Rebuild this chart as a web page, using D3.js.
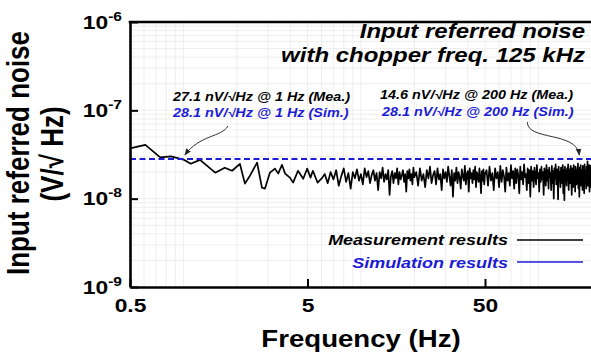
<!DOCTYPE html>
<html>
<head>
<meta charset="utf-8">
<script src="https://cdn.jsdelivr.net/npm/d3@7"></script>
<style>
  body { margin: 0; background: #fff; }
  svg { font-family: "Liberation Sans", Arial, sans-serif; font-weight: bold; }
</style>
</head>
<body>
<svg id="chart" width="591" height="354"></svg>
<script>
// measured noise, nV/sqrt(Hz)
// low end: points read one by one off the trace
const measLowFreq = [0.5, 0.61, 0.74, 0.85, 1.0, 1.1, 1.24, 1.51, 1.71, 1.88, 2.08, 2.22, 2.37, 2.6, 2.77, 2.88,
  3.07, 3.28, 3.42, 3.59, 3.74, 3.98, 4.15, 4.42, 4.73, 4.98, 5.2, 5.36, 5.7, 6.06];
const measLow = [37, 40.6, 29.4, 30.1, 27.7, 24.9, 27.5, 19.7, 22.4, 20.7, 24.8, 14.8, 18.2, 25.6, 13.3, 13.0,
  19.7, 21.9, 19.2, 24.2, 19.2, 17.3, 15.2, 20.7, 16.8, 21.9, 17.3, 20.7, 15.2, 17.3];
// 6.25 .. 20 Hz, one value every 0.25 Hz
const measMid = [19, 15, 20, 16.5, 21, 14, 18, 22, 15.5, 19.5, 13, 20, 17, 21.5, 16, 19, 14.5, 22, 17.5, 20.5,
  15, 18.5, 21, 16, 19.5, 12.5, 20, 17, 22.5, 15.5, 19, 16.5, 21, 11, 18, 20.5, 15, 19.5, 17, 22,
  14.5, 20, 16.5, 18.5, 21, 15.5, 19, 12, 20.5, 17, 21.5, 16, 19, 14.5, 22.5, 17.5];
// 20.5 .. 50 Hz, every 0.5 Hz
const measHigh = [20, 14, 22, 16, 19, 13.5, 21, 17, 23, 15, 18.5, 20.5, 14.5, 22, 16.5, 19, 12.5, 21.5, 17, 20,
  15.5, 23, 18, 14, 21, 10.5, 19.5, 16, 22.5, 15, 20, 17.5, 13, 21.5, 18, 16, 23.5, 14.5, 19, 20.5,
  12, 22, 17, 19.5, 15, 21, 16.5, 23, 13.5, 20, 18, 15.5, 22, 17, 11.5, 20.5, 16, 21.5, 14.5, 19];
// 51 .. 200 Hz, every 1 Hz
const measTop = [21, 14, 23, 16, 19.5, 12.5, 22, 17, 20, 13.5, 23.5, 15.5, 21, 18, 12, 22.5, 16, 19.5, 14, 24,
  17, 20.5, 13, 22, 15, 21.5, 18.5, 11.5, 23, 16.5, 20, 14.5, 24.5, 17.5, 19, 12.5, 22, 15, 21, 10.5,
  23, 16, 20.5, 13.5, 22.5, 18, 14.5, 24, 17, 19.5, 12, 21.5, 15.5, 23, 16.5, 20, 11, 22, 18.5, 14,
  24, 16, 21, 13, 22.5, 17.5, 19.5, 12.5, 23.5, 15, 20.5, 10, 22, 17, 24.5, 14.5, 19, 21.5, 9.8, 23,
  16, 20, 13.5, 22.5, 18, 15, 24, 11.5, 21, 9.6, 23, 17, 20.5, 14, 22, 16.5, 24.5, 12.5, 19, 21.5,
  15, 23.5, 17.5, 11, 22, 19, 13.5, 24, 16, 20.5, 12, 23, 18.5, 14.5, 21.5, 16, 25, 13, 20, 10.5,
  22.5, 17, 24, 14, 19.5, 21, 12.5, 23.5, 16.5, 20, 11.5, 24.5, 15.5, 21, 18, 13, 23, 17, 26.5, 14,
  22, 16, 24, 12, 20.5, 18.5, 23.5, 13.5, 21, 17];
const simValue = 28.1; // nV/sqrt(Hz), flat

const xTicks = [0.5, 5, 50];
const yTicks = [1e-9, 1e-8, 1e-7, 1e-6];

const meas = measLowFreq.map((f, i) => [f, measLow[i]])
  .concat(measMid.map((v, i) => [6.25 + i * 0.25, v]))
  .concat(measHigh.map((v, i) => [20.5 + i * 0.5, v]))
  .concat(measTop.map((v, i) => [51 + i, v]));

const plotL = 130, plotT = 22, plotB = 287;
const plotR = plotL + 177.5 * Math.log10(200 / 0.5);
const sx = 1.2; // the original lettering is a bit wide

const svg = d3.select("#chart");
const blue = "#1c1cd8";

const x = d3.scaleLog().domain([0.5, 200]).range([plotL, plotR]);
const y = d3.scaleLog().domain([1e-9, 1e-6]).range([plotB, plotT]);

// grid
const xGrid = [0.6, 0.7, 0.8, 0.9, 1, 2, 3, 4, 5, 6, 7, 8, 9, 10, 20, 30, 40, 50, 60, 70, 80, 90, 100, 200];
const yGrid = [];
[1e-9, 1e-8, 1e-7].forEach(d => { for (let k = 1; k < 10; k++) yGrid.push(d * k); });

const grid = svg.append("g").attr("stroke", "#eeeeee").attr("stroke-width", 1);
grid.selectAll("line.gx").data(xGrid).enter().append("line")
  .attr("x1", d => x(d)).attr("x2", d => x(d)).attr("y1", plotT).attr("y2", plotB);
grid.selectAll("line.gy").data(yGrid.slice(1)).enter().append("line")
  .attr("x1", plotL).attr("x2", plotR).attr("y1", d => y(d)).attr("y2", d => y(d));

// lines
svg.append("clipPath").attr("id", "plot").append("rect")
  .attr("x", plotL).attr("y", plotT).attr("width", plotR - plotL).attr("height", plotB - plotT);

const line = d3.line().x(d => x(d[0])).y(d => y(d[1] * 1e-9));
svg.append("path").datum(meas)
  .attr("clip-path", "url(#plot)")
  .attr("d", line)
  .attr("fill", "none").attr("stroke", "#000").attr("stroke-width", 1.7)
  .attr("stroke-linejoin", "round");

svg.append("path").datum([[0.5, simValue], [200, simValue]])
  .attr("d", line)
  .attr("fill", "none").attr("stroke", blue).attr("stroke-width", 2)
  .attr("stroke-dasharray", "6,3.5");

// axes
const xAxis = svg.append("g").attr("transform", `translate(0,${plotB})`)
  .call(d3.axisBottom(x).tickValues(xTicks).tickSizeInner(-8).tickSizeOuter(0).tickPadding(12)
    .tickFormat(d => String(d)));
const yAxis = svg.append("g").attr("transform", `translate(${plotL},0)`)
  .call(d3.axisLeft(y).tickValues(yTicks).tickSizeInner(-8).tickSizeOuter(0).tickPadding(8)
    .tickFormat(() => ""));

[xAxis, yAxis].forEach(a => {
  a.attr("font-family", null).attr("font-size", 19);
  a.select(".domain").attr("stroke", "#000").attr("stroke-width", 2.6);
  a.selectAll(".tick line").attr("stroke", "#000").attr("stroke-width", 2);
  a.selectAll(".tick text").attr("fill", "#000");
});
xAxis.selectAll(".tick text").attr("transform", `scale(${sx},1)`);
yAxis.selectAll(".tick text")
  .attr("x", -8 / sx).attr("transform", `scale(${sx},1)`)
  .each(function (d) {
    const t = d3.select(this);
    t.append("tspan").text("10");
    t.append("tspan").attr("font-size", 13).attr("dy", -8).text(String(Math.round(Math.log10(d))));
  });

svg.append("line").attr("x1", plotL - 1.3).attr("x2", plotR).attr("y1", plotT).attr("y2", plotT)
  .attr("stroke", "#000").attr("stroke-width", 2.6);

// text helper, stretched sideways
function label(px, py, txt, size, opt = {}) {
  return svg.append("text")
    .attr("transform", `translate(${px},${py}) ` + (opt.rot ? `rotate(-90) scale(1,${sx})` : `scale(${sx},1)`))
    .attr("text-anchor", opt.anchor || "start")
    .attr("font-size", size)
    .attr("font-style", opt.italic ? "italic" : null)
    .attr("fill", opt.color || "#000")
    .text(txt);
}

// axis titles
label(361, 347, "Frequency (Hz)", 23, { anchor: "middle" });
label(29, 153, "Input referred noise", 26, { anchor: "middle", rot: true });
label(63, 154, "(V/\u221A Hz)", 26, { anchor: "middle", rot: true });

// title
label(585, 38, "Input referred noise", 20, { anchor: "end", italic: true });
label(585, 62, "with chopper freq. 125 kHz", 20, { anchor: "end", italic: true });

// annotations
label(173, 101, "27.1 nV/\u221AHz @ 1 Hz (Mea.)", 12, { italic: true });
label(173, 117, "28.1 nV/\u221AHz @ 1 Hz (Sim.)", 12, { italic: true, color: blue });
label(380, 99, "14.6 nV/\u221AHz @ 200 Hz (Mea.)", 12, { italic: true });
label(382, 116, "28.1 nV/\u221AHz @ 200 Hz (Sim.)", 12, { italic: true, color: blue });

svg.append("defs").append("marker")
  .attr("id", "tip").attr("viewBox", "0 0 10 10").attr("refX", 9).attr("refY", 5)
  .attr("markerWidth", 7).attr("markerHeight", 7).attr("orient", "auto-start-reverse")
  .append("path").attr("d", "M0,1L10,5L0,9Z").attr("fill", "#222");

const ySim = y(simValue * 1e-9);
const t1 = [x(1) + 1.5, ySim - 4], t2 = [x(170), ySim - 4];
svg.append("path")
  .attr("d", `M${t1[0] + 43},${t1[1] - 29} C${t1[0] + 37},${t1[1] - 18} ${t1[0] + 14},${t1[1] - 20} ${t1[0]},${t1[1]}`)
  .attr("fill", "none").attr("stroke", "#333").attr("stroke-width", 1).attr("marker-end", "url(#tip)");
svg.append("path")
  .attr("d", `M${t2[0] - 52},${t2[1] - 33} C${t2[0] - 52},${t2[1] - 14} ${t2[0] - 3},${t2[1] - 24} ${t2[0]},${t2[1]}`)
  .attr("fill", "none").attr("stroke", "#333").attr("stroke-width", 1).attr("marker-end", "url(#tip)");

// legend
label(508, 245, "Measurement results", 15, { anchor: "end", italic: true });
label(508, 268, "Simulation results", 15, { anchor: "end", italic: true, color: blue });
svg.append("line").attr("x1", 517).attr("x2", 583).attr("y1", 240).attr("y2", 240)
  .attr("stroke", "#000").attr("stroke-width", 1.5);
svg.append("line").attr("x1", 517).attr("x2", 583).attr("y1", 262).attr("y2", 262)
  .attr("stroke", blue).attr("stroke-width", 1.5);
</script>
</body>
</html>
